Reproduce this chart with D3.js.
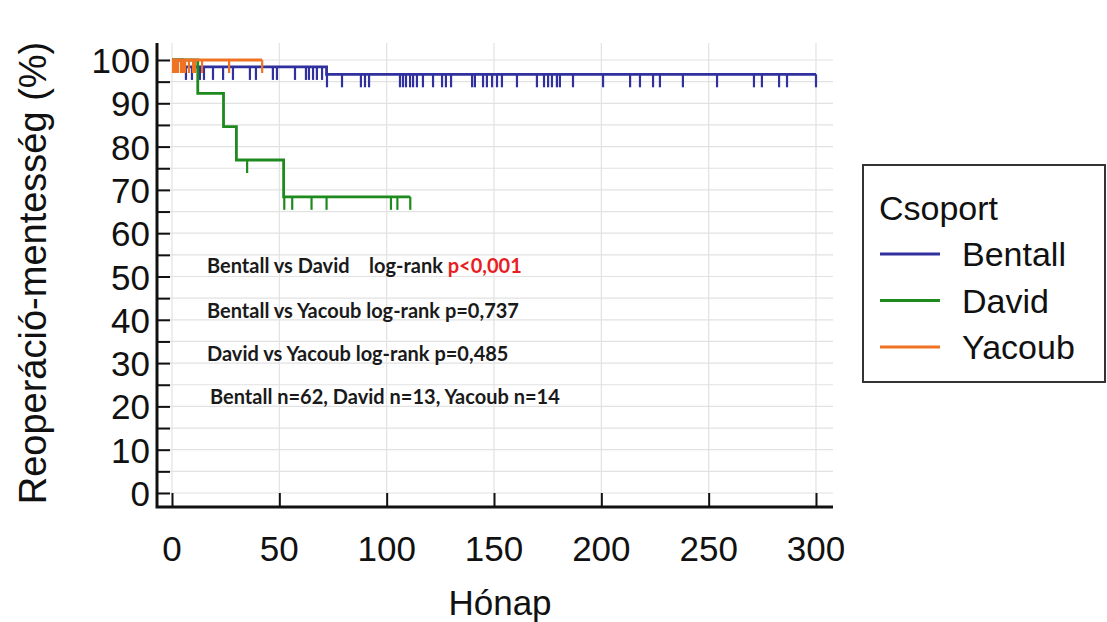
<!DOCTYPE html>
<html>
<head>
<meta charset="utf-8">
<script src="https://cdn.jsdelivr.net/npm/d3@7"></script>
<style>
  body { margin: 0; background: #fff; }
  svg { display: block; }
  .tick-label { font-family: "Liberation Sans", Arial, sans-serif; fill: #111; }
  .note { font-family: Lato, "Open Sans", sans-serif; font-weight: 700; fill: #1a1a1a; }
</style>
</head>
<body>
<svg id="chart" width="1107" height="622"></svg>
<script>
const width = 1107, height = 622;

// --- data (months, % free of reoperation) ---
const groups = ["Bentall", "David", "Yacoub"];
const colors = ["#30309e", "#1e8a1e", "#f07323"];

const bentallSteps = [[0, 100], [5, 98.4], [72, 96.7]];
const bentallEnd = 300;
const bentallCensor = [6.5, 9.3, 13, 14.9, 19.1, 23.8, 28.4, 36.3, 39.1, 47, 48.9, 57.3, 62.4, 63.8, 65.7, 67.5, 69.9,
  72.2, 79.2, 88, 89.9, 91.8, 106.2, 107.6, 109, 110.9, 112.3, 114.1, 116.9, 121.6, 125.8, 127.6, 130,
  139.8, 141.1, 144.9, 146.7, 149.1, 151.4, 153.7, 160.7, 170, 173.3, 175.2, 177, 179.3, 180.7, 186.8,
  200.8, 213.4, 218, 224.1, 227.3, 238, 253.9, 271.1, 274.8, 282.8, 286.5, 300];

const davidSteps = [[0, 100], [12, 92.3], [24, 84.6], [30, 76.9], [52, 68.4]];
const davidEnd = 111;
const davidCensor = [35, 52.3, 56, 65, 72, 102, 105, 111];

const yacoubSteps = [[0, 100]];
const yacoubEnd = 42;
const yacoubCensor = [0.5, 0.9, 1.4, 1.9, 2.8, 4.2, 5.1, 6.1, 7.9, 9.8, 10.7, 14, 26.6, 42];

const xTicks = [0, 50, 100, 150, 200, 250, 300];
const yTicks = [0, 10, 20, 30, 40, 50, 60, 70, 80, 90, 100];
const yGrid = d3.range(0, 101, 5);

const notes = [
  { text: "Bentall vs David\u00a0\u00a0\u00a0\u00a0log-rank ", red: "p<0,001" },
  { text: "Bentall vs Yacoub log-rank p=0,737" },
  { text: "David vs Yacoub log-rank p=0,485" },
  { text: "Bentall n=62, David n=13, Yacoub n=14" }
];

const svg = d3.select("#chart");

const x = d3.scaleLinear().domain([0, 300]).range([172, 816]);
const y = d3.scaleLinear().domain([0, 100]).range([493, 60]);

const axisLeft = 157, axisBottom = 507, axisRight = 833, axisTop = 43;

// grid
svg.append("g").selectAll("line")
  .data(yGrid)
  .join("line")
  .attr("x1", axisLeft).attr("x2", axisRight)
  .attr("y1", d => y(d)).attr("y2", d => y(d))
  .attr("stroke", "#e2e2e2").attr("stroke-width", 1.2);

svg.append("g").selectAll("line")
  .data(xTicks)
  .join("line")
  .attr("x1", d => x(d)).attr("x2", d => x(d))
  .attr("y1", axisTop).attr("y2", axisBottom)
  .attr("stroke", "#e2e2e2").attr("stroke-width", 1.2);

// axes
const yAxis = svg.append("g").attr("transform", `translate(${axisLeft},0)`)
  .call(d3.axisRight(y).tickValues(yGrid).tickSize(13).tickFormat(""));
yAxis.select(".domain").remove();
yAxis.selectAll("line").attr("stroke", "#111").attr("stroke-width", 2);

const xAxis = svg.append("g").attr("transform", `translate(0,${axisBottom})`)
  .call(d3.axisTop(x).tickValues(xTicks).tickSize(14).tickFormat(""));
xAxis.select(".domain").remove();
xAxis.selectAll("line").attr("stroke", "#111").attr("stroke-width", 2);

svg.append("path")
  .attr("d", `M${axisLeft},${axisTop}V${axisBottom}H${axisRight}`)
  .attr("fill", "none").attr("stroke", "#111").attr("stroke-width", 3);

// tick labels
svg.append("g").selectAll("text")
  .data(yTicks)
  .join("text")
  .attr("class", "tick-label")
  .attr("x", 150).attr("y", d => y(d) + 13)
  .attr("text-anchor", "end")
  .attr("font-size", 35)
  .text(d => d);

svg.append("g").selectAll("text")
  .data(xTicks)
  .join("text")
  .attr("class", "tick-label")
  .attr("x", d => x(d)).attr("y", 561)
  .attr("text-anchor", "middle")
  .attr("font-size", 35)
  .text(d => d);

svg.append("text")
  .attr("class", "tick-label")
  .attr("x", 500).attr("y", 615)
  .attr("text-anchor", "middle")
  .attr("font-size", 35)
  .text("Hónap");

svg.append("text")
  .attr("class", "tick-label")
  .attr("transform", "translate(46,273) rotate(-90)")
  .attr("text-anchor", "middle")
  .attr("font-size", 38)
  .text("Reoperáció-mentesség (%)");

// survival curves
const line = d3.line().x(d => x(d[0])).y(d => y(d[1])).curve(d3.curveStepAfter);

function survAt(steps, t) {
  const i = d3.bisector(d => d[0]).right(steps, t) - 1;
  return steps[Math.max(0, i)][1];
}

const series = [
  { steps: bentallSteps, end: bentallEnd, censor: bentallCensor, color: colors[0] },
  { steps: davidSteps, end: davidEnd, censor: davidCensor, color: colors[1] },
  { steps: yacoubSteps, end: yacoubEnd, censor: yacoubCensor, color: colors[2] }
];

series.forEach(s => {
  const pts = s.steps.concat([[s.end, s.steps[s.steps.length - 1][1]]]);
  const g = svg.append("g");
  g.append("path")
    .attr("d", line(pts))
    .attr("fill", "none")
    .attr("stroke", s.color)
    .attr("stroke-width", 2.8);
  g.selectAll("line")
    .data(s.censor)
    .join("line")
    .attr("x1", d => x(d)).attr("x2", d => x(d))
    .attr("y1", d => y(survAt(s.steps, d)))
    .attr("y2", d => y(survAt(s.steps, d)) + 13)
    .attr("stroke", s.color)
    .attr("stroke-width", 2.2);
});

// annotations
const noteY = [273, 318, 361, 404];
notes.forEach((n, i) => {
  const t = svg.append("text")
    .attr("class", "note")
    .attr("x", i === 3 ? 210 : 207)
    .attr("y", noteY[i])
    .attr("font-size", 20)
    .text(n.text);
  if (n.red) t.append("tspan").attr("fill", "#e81e25").text(n.red);
});

// legend
const legend = svg.append("g");
legend.append("rect")
  .attr("x", 863).attr("y", 165).attr("width", 242).attr("height", 217)
  .attr("fill", "#fff").attr("stroke", "#333").attr("stroke-width", 2);
legend.append("text")
  .attr("class", "tick-label")
  .attr("x", 879).attr("y", 220)
  .attr("font-size", 34)
  .text("Csoport");
const legY = d3.scalePoint().domain(groups).range([254, 347]);
groups.forEach((g, i) => {
  legend.append("line")
    .attr("x1", 880).attr("x2", 940)
    .attr("y1", legY(g)).attr("y2", legY(g))
    .attr("stroke", colors[i]).attr("stroke-width", 2.8);
  legend.append("text")
    .attr("class", "tick-label")
    .attr("x", 962).attr("y", legY(g) + 12)
    .attr("font-size", 34)
    .text(g);
});
</script>
</body>
</html>
